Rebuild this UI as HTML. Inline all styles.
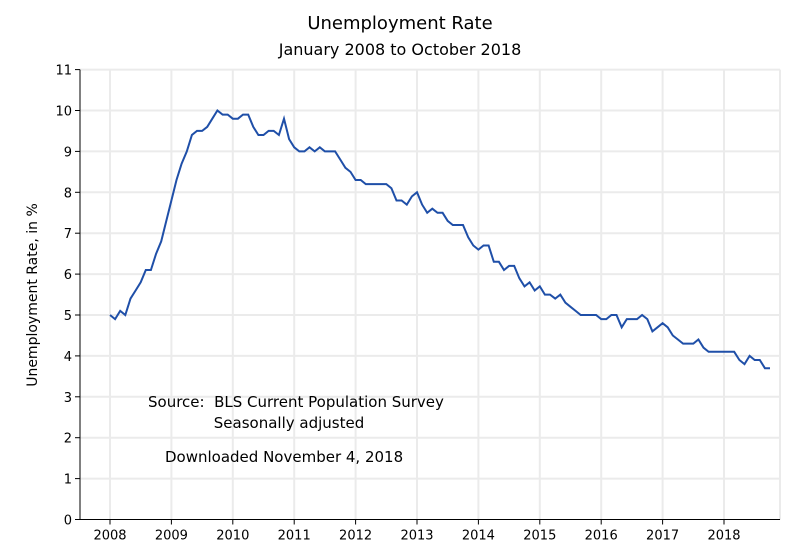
<!DOCTYPE html>
<html><head><style>body{margin:0;background:#fff}svg{display:block;font-family:"DejaVu Sans","Liberation Sans",sans-serif}</style></head>
<body>
<svg id="s" width="800" height="550" xmlns="http://www.w3.org/2000/svg">
<text x="400" y="29" text-anchor="middle" font-size="18">Unemployment Rate</text>
<text x="400" y="55" text-anchor="middle" font-size="16">January 2008 to October 2018</text>
<text transform="translate(37,295) rotate(-90)" text-anchor="middle" font-size="14">Unemployment Rate, in %</text>
<g id="grid"></g>
<text x="148" y="407" font-size="15">Source: &#160;BLS Current Population Survey</text>
<text x="289" y="428" text-anchor="middle" font-size="15">Seasonally adjusted</text>
<text x="165" y="462" font-size="15">Downloaded November 4, 2018</text>
</svg>
<script>
var d=[5.0,4.9,5.1,5.0,5.4,5.6,5.8,6.1,6.1,6.5,6.8,7.3,
7.8,8.3,8.7,9.0,9.4,9.5,9.5,9.6,9.8,10.0,9.9,9.9,
9.8,9.8,9.9,9.9,9.6,9.4,9.4,9.5,9.5,9.4,9.8,9.3,
9.1,9.0,9.0,9.1,9.0,9.1,9.0,9.0,9.0,8.8,8.6,8.5,
8.3,8.3,8.2,8.2,8.2,8.2,8.2,8.1,7.8,7.8,7.7,7.9,
8.0,7.7,7.5,7.6,7.5,7.5,7.3,7.2,7.2,7.2,6.9,6.7,
6.6,6.7,6.7,6.3,6.3,6.1,6.2,6.2,5.9,5.7,5.8,5.6,
5.7,5.5,5.5,5.4,5.5,5.3,5.2,5.1,5.0,5.0,5.0,5.0,
4.9,4.9,5.0,5.0,4.7,4.9,4.9,4.9,5.0,4.9,4.6,4.7,
4.8,4.7,4.5,4.4,4.3,4.3,4.3,4.4,4.2,4.1,4.1,4.1,
4.1,4.1,4.1,3.9,3.8,4.0,3.9,3.9,3.7,3.7];
var X0=110,YW=61.4,Y0=519.5,U=40.9,L=80,R=780;
var h='';
for(var i=0;i<=11;i++){var y=Y0-i*U;
 if(i>0)h+='<line x1="'+L+'" x2="'+R+'" y1="'+y+'" y2="'+y+'" stroke="#ebebeb" stroke-width="2"/>';
 h+='<line x1="'+(L-5)+'" x2="'+L+'" y1="'+y+'" y2="'+y+'" stroke="#000"/>';
 h+='<text x="'+(L-8)+'" y="'+(y+5)+'" text-anchor="end" font-size="13">'+i+'</text>';}
for(var k=0;k<=10;k++){var x=X0+k*YW;
 h+='<line x1="'+x+'" x2="'+x+'" y1="'+(Y0-11*U)+'" y2="'+Y0+'" stroke="#ebebeb" stroke-width="2"/>';
 h+='<line x1="'+x+'" x2="'+x+'" y1="'+Y0+'" y2="'+(Y0+5)+'" stroke="#000"/>';
 h+='<text x="'+x+'" y="'+(Y0+20)+'" text-anchor="middle" font-size="13">'+(2008+k)+'</text>';}
h+='<line x1="'+R+'" x2="'+R+'" y1="'+(Y0-11*U)+'" y2="'+Y0+'" stroke="#ebebeb" stroke-width="2"/>';
h+='<line x1="'+L+'" x2="'+L+'" y1="'+(Y0-11*U)+'" y2="'+Y0+'" stroke="#000"/>';
h+='<line x1="'+L+'" x2="'+R+'" y1="'+Y0+'" y2="'+Y0+'" stroke="#000"/>';
var p=d.map(function(v,i){return (X0+i*YW/12).toFixed(1)+','+(Y0-v*U).toFixed(1)}).join(' ');
h+='<polyline points="'+p+'" fill="none" stroke="#1f4fa8" stroke-width="2"/>';
document.getElementById('grid').innerHTML=h;
</script>
</body></html>
